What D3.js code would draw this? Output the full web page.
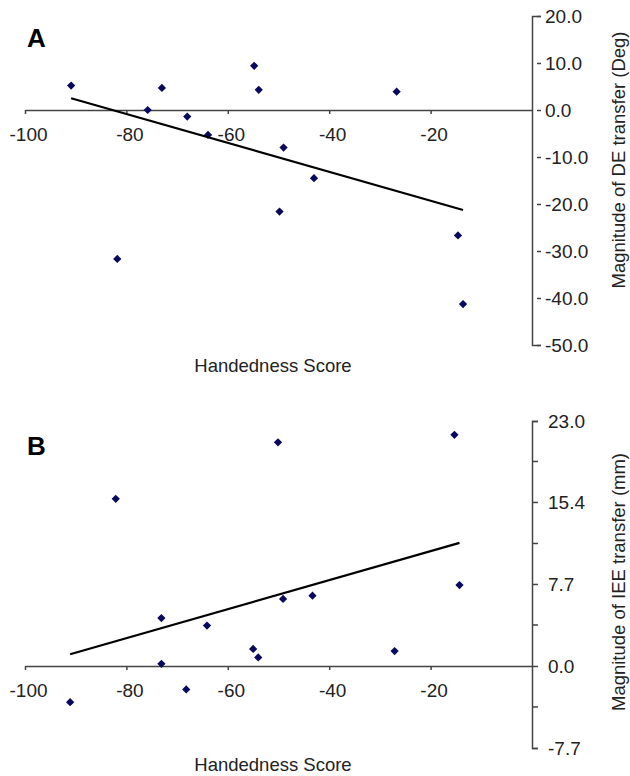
<!DOCTYPE html>
<html>
<head>
<meta charset="utf-8">
<script src="https://cdn.jsdelivr.net/npm/d3@7"></script>
<style>
  body { margin: 0; background: #fff; }
  text { font-family: "Liberation Sans", Arial, sans-serif; }
</style>
</head>
<body>
<script>
// Panel A: handedness score vs magnitude of DE transfer (deg)
let handA = [-90.9, -73.0, -54.8, -53.9, -75.8, -68.0, -63.9, -49.0, -43.0, -26.7, -49.8, -14.6, -81.8, -13.6];
let deA   = [  5.2,   4.7,   9.4,   4.3,   0.0,  -1.4,  -5.3,  -8.0, -14.5,   3.9, -21.6, -26.7, -31.7, -41.3];

// Panel B: handedness score vs magnitude of IEE transfer (mm)
let handB = [-50.1, -82.1, -15.3, -14.3, -43.3, -49.1, -73.1, -64.1, -55.0, -54.0, -27.1, -73.1, -68.2, -91.1];
let ieeB  = [ 21.0,  15.7,  21.7,   7.6,   6.6,   6.3,   4.5,   3.8,   1.6,   0.8,   1.4,   0.2,  -2.2,  -3.4];

let xTicks = [-100, -80, -60, -40, -20];
let yTicksA = [20, 10, 0, -10, -20, -30, -40, -50];
let yMajorB = [23.0, 15.4, 7.7, 0.0, -7.7];
let yLabelsB = ['23.0', '15.4', '7.7', '0.0', '-7.7'];
let yMinorB = [19.2, 11.5, 3.85, -3.85];

let
  width = 630,
  height = 776;

let svg = d3.select('body')
            .append('svg')
            .attr('width', width)
            .attr('height', height)

// plain hyphen instead of d3's unicode minus
let fmt = spec => d => d3.format(spec)(d).replace('\u2212', '-')

// least squares fit, drawn from the smallest to the largest x
function fit(xs, ys) {
  let mx = d3.mean(xs), my = d3.mean(ys)
  let sxy = d3.sum(xs, (x, i) => (x - mx) * (ys[i] - my))
  let sxx = d3.sum(xs, x => (x - mx) * (x - mx))
  let b = sxy / sxx, a = my - b * mx
  let x0 = d3.min(xs), x1 = d3.max(xs)
  return [[x0, a + b * x0], [x1, a + b * x1]]
}

function panel(opt) {
  let g = svg.append('g')
  let x = d3.scaleLinear().domain([-100, 0]).range([25, 532])
  let y = d3.scaleLinear().domain(opt.yDomain).range(opt.yRange)

  // x axis sits on y = 0
  let xAxis = g.append('g')
              .attr('transform', `translate(0, ${y(0)})`)
              .call(d3.axisBottom(x).tickValues(xTicks).tickSize(4).tickSizeOuter(0).tickPadding(14).tickFormat(fmt('d')))
  xAxis.selectAll('text').attr('dx', 3)

  // y axis on the right edge
  let yAxis = g.append('g')
              .attr('transform', `translate(${x(0)}, 0)`)
              .call(opt.axis(y))
  opt.after && opt.after(yAxis, y)

  g.selectAll('.domain, .tick line').attr('stroke', '#444').attr('stroke-width', 1.5)
  g.selectAll('.tick text').attr('fill', '#222').style('font-size', '19px')

  // points
  g.selectAll('path.pt')
   .data(opt.xs)
   .enter()
   .append('path')
   .attr('class', 'pt')
   .attr('d', d3.symbol().type(d3.symbolSquare).size(34))
   .attr('transform', (d, i) => `translate(${x(d)}, ${y(opt.ys[i])}) rotate(45)`)
   .attr('fill', '#08085e')

  // trend line
  g.append('path')
   .datum(fit(opt.xs, opt.ys))
   .attr('d', d3.line().x(d => x(d[0])).y(d => y(d[1])))
   .attr('stroke', '#000')
   .attr('stroke-width', 2.2)
   .attr('fill', 'none')

  // labels
  g.append('text')
   .attr('x', 27).attr('y', opt.letterY)
   .text(opt.letter)
   .style('font-size', '26px').style('font-weight', 'bold')
  g.append('text')
   .attr('x', 273).attr('y', opt.xTitleY)
   .text('Handedness Score')
   .style('text-anchor', 'middle').style('font-size', '18.5px').attr('fill', '#222')
  g.append('text')
   .attr('transform', `translate(625, ${opt.yTitleY}) rotate(-90)`)
   .text(opt.yTitle)
   .style('text-anchor', 'middle').style('font-size', '18.5px').attr('fill', '#222')
}

panel({
  letter: 'A', letterY: 47,
  xs: handA, ys: deA,
  yDomain: [-50, 20], yRange: [345, 16],
  axis: y => d3.axisRight(y).tickValues(yTicksA).tickSizeOuter(0).tickSize(9).tickPadding(4).tickFormat(fmt('.1f')),
  after: (ax) => ax.selectAll('.tick line').attr('x1', 5),
  xTitleY: 372,
  yTitle: 'Magnitude of DE transfer (Deg)', yTitleY: 160
})

panel({
  letter: 'B', letterY: 455,
  xs: handB, ys: ieeB,
  yDomain: [-7.7, 23], yRange: [748, 421],
  axis: y => d3.axisRight(y).tickValues(yMajorB).tickSize(6).tickSizeOuter(6).tickPadding(10).tickFormat((d, i) => yLabelsB[i]),
  after: (ax, y) => {
    ax.selectAll('.minor')
      .data(yMinorB)
      .enter()
      .append('line')
      .attr('class', 'minor')
      .attr('x1', 0).attr('x2', 6)
      .attr('y1', d => y(d)).attr('y2', d => y(d))
      .attr('stroke', '#444').attr('stroke-width', 1.5)
  },
  xTitleY: 771,
  yTitle: 'Magnitude of IEE transfer (mm)', yTitleY: 582
})
</script>
</body>
</html>
